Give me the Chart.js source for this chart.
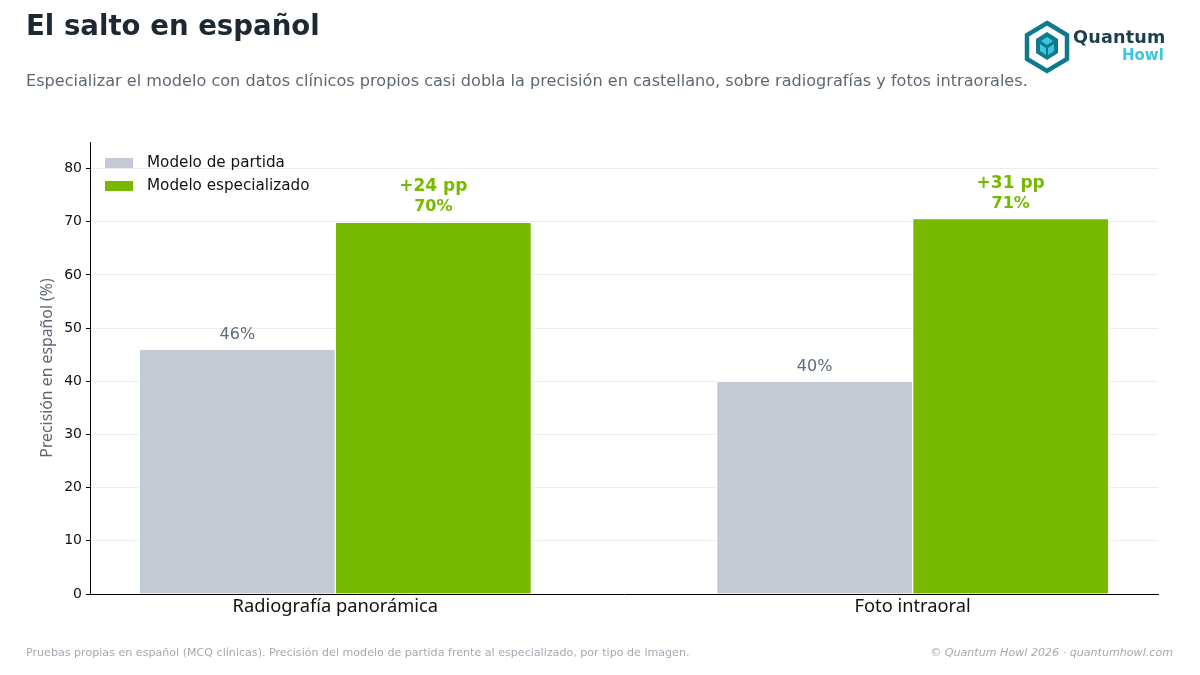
<!DOCTYPE html>
<html>
<head>
<meta charset="utf-8">
<script src="https://cdn.jsdelivr.net/npm/chart.js@4.4.1/dist/chart.umd.min.js"></script>
<style>
  html, body { margin: 0; padding: 0; background: #fff; }
  #wrap { position: relative; width: 1200px; height: 675px; overflow: hidden; font-family: "DejaVu Sans", sans-serif; }
  #myChart { position: absolute; left: 0; top: 0; }
  .title { position: absolute; left: 26px; top: 9px; font-size: 27.6px; font-weight: bold; color: #1e2832; }
  .sub { position: absolute; left: 26px; top: 71px; font-size: 16.1px; color: #5d6873; }
  .foot { position: absolute; top: 646px; font-size: 11.1px; color: #a2aab2; }
  .logo { position: absolute; left: 1022px; top: 20px; width: 160px; height: 55px; }
  .logo .q { position: absolute; left: 51px; top: 7px; font-size: 17.6px; font-weight: bold; color: #1c3f4e; letter-spacing: 0.2px; }
  .logo .h { position: absolute; left: 100px; top: 26px; font-size: 15px; font-weight: bold; color: #3ec5e0; }
</style>
</head>
<body>
<div id="wrap">
  <canvas id="myChart" width="1200" height="675"></canvas>
  <div class="title">El salto en español</div>
  <div class="sub">Especializar el modelo con datos clínicos propios casi dobla la precisión en castellano, sobre radiografías y fotos intraorales.</div>
  <div class="logo">
    <svg width="50" height="54" viewBox="0 0 50 54">
      <polygon points="25,3 45,15 45,39 25,51 5,39 5,15" fill="none" stroke="#0f7a8c" stroke-width="4.5"/>
      <polygon points="25,12 36,19 36,33 25,40 14,33 14,19" fill="#0f7a8c"/>
      <polygon points="25,17 31,21 25,25 19,21" fill="#3ec5e0"/>
      <polygon points="18,24 24,28 24,35 18,31" fill="#3ec5e0"/>
      <polygon points="32,24 26,28 26,35 32,31" fill="#3ec5e0"/>
    </svg>
    <span class="q">Quantum</span>
    <span class="h">Howl</span>
  </div>
  <div class="foot" style="left:26px;">Pruebas propias en español (MCQ clínicas). Precisión del modelo de partida frente al especializado, por tipo de imagen.</div>
  <div class="foot" style="right:27px;font-style:italic;">© Quantum Howl 2026 · quantumhowl.com</div>
</div>
<script>
(function() {

  "use strict";

  // data
  var categories = ['Radiografía panorámica', 'Foto intraoral'];
  var seriesNames = ['Modelo de partida', 'Modelo especializado'];
  var baseValues = [46, 40];
  var tunedValues = [69.9, 70.6];
  var gainLabels = ['+24 pp', '+31 pp'];
  var yTicks = [0, 10, 20, 30, 40, 50, 60, 70, 80];

  var grey = '#c3cad4';
  var green = '#76b900';

  function pts(vals) {
    return vals.map(function(v, i) { return { x: i, y: v }; });
  }

  // legend drawn inside the plot, top-left
  var legendInside = {
    id: 'legendInside',
    afterDraw: function(chart) {
      var ctx = chart.ctx;
      var a = chart.chartArea;
      var cols = [grey, green];
      ctx.save();
      ctx.font = '15.2px "DejaVu Sans"';
      ctx.textBaseline = 'middle';
      for (var i = 0; i < seriesNames.length; i++) {
        var cy = a.top + 21 + i * 23;
        ctx.fillStyle = cols[i];
        ctx.fillRect(a.left + 15, cy - 5, 28, 10);
        ctx.fillStyle = '#111';
        ctx.fillText(seriesNames[i], a.left + 57, cy);
      }
      ctx.restore();
    }
  };

  // value labels above bars
  var barLabels = {
    id: 'barLabels',
    afterDatasetsDraw: function(chart) {
      var ctx = chart.ctx;
      ctx.save();
      ctx.textAlign = 'center';
      ctx.textBaseline = 'alphabetic';
      chart.getDatasetMeta(0).data.forEach(function(bar, i) {
        ctx.font = '16px "DejaVu Sans"';
        ctx.fillStyle = '#5f6b76';
        ctx.fillText(Math.round(baseValues[i]) + '%', bar.x, bar.y - 10);
      });
      chart.getDatasetMeta(1).data.forEach(function(bar, i) {
        ctx.font = 'bold 16px "DejaVu Sans"';
        ctx.fillStyle = green;
        ctx.fillText(Math.round(tunedValues[i]) + '%', bar.x, bar.y - 11);
        ctx.font = 'bold 17px "DejaVu Sans"';
        ctx.fillText(gainLabels[i], bar.x, bar.y - 31);
      });
      ctx.restore();
    }
  };

  var ctx = document.getElementById('myChart').getContext('2d');

  var myChart = new Chart(ctx, {
    type: 'bar',
    data: {
      datasets: [
        {
          label: seriesNames[0],
          data: pts(baseValues),
          backgroundColor: grey,
          borderColor: '#ffffff',
          borderWidth: 1,
          barThickness: 196
        },
        {
          label: seriesNames[1],
          data: pts(tunedValues),
          backgroundColor: green,
          borderColor: '#ffffff',
          borderWidth: 1,
          barThickness: 196
        }
      ]
    },
    options: {
      responsive: false,
      animation: false,
      layout: { padding: { top: 142, right: 42, left: 0, bottom: 0 } },
      plugins: {
        legend: { display: false },
        tooltip: { enabled: false }
      },
      scales: {
        x: {
          type: 'linear',
          offset: false,
          min: -0.425,
          max: 1.425,
          afterBuildTicks: function(axis) {
            axis.ticks = categories.map(function(c, i) { return { value: i }; });
          },
          afterFit: function(axis) { axis.height = 81; },
          ticks: {
            callback: function(v) { return categories[v]; },
            font: { family: '"Noto Sans"', size: 18.3 },
            color: '#111',
            padding: 2,
            maxRotation: 0,
            autoSkip: false
          },
          grid: { display: false, drawTicks: false },
          border: { display: true, color: '#000', width: 1 }
        },
        y: {
          min: 0,
          max: 85,
          afterBuildTicks: function(axis) {
            axis.ticks = yTicks.map(function(v) { return { value: v }; });
          },
          afterFit: function(axis) { axis.width = 90; },
          ticks: {
            font: { family: '"DejaVu Sans"', size: 14 },
            color: '#111',
            padding: 4
          },
          grid: {
            color: '#ececec',
            lineWidth: 1,
            tickColor: '#000',
            tickLength: 4
          },
          border: { display: true, color: '#000', width: 1 },
          title: {
            display: true,
            text: 'Precisión en español (%)',
            font: { family: '"Noto Sans"', size: 15.8 },
            color: '#5d6873',
            padding: { top: 38, bottom: 6 }
          }
        }
      }
    },
    plugins: [legendInside, barLabels]
  });

})();
</script>
</body>
</html>
